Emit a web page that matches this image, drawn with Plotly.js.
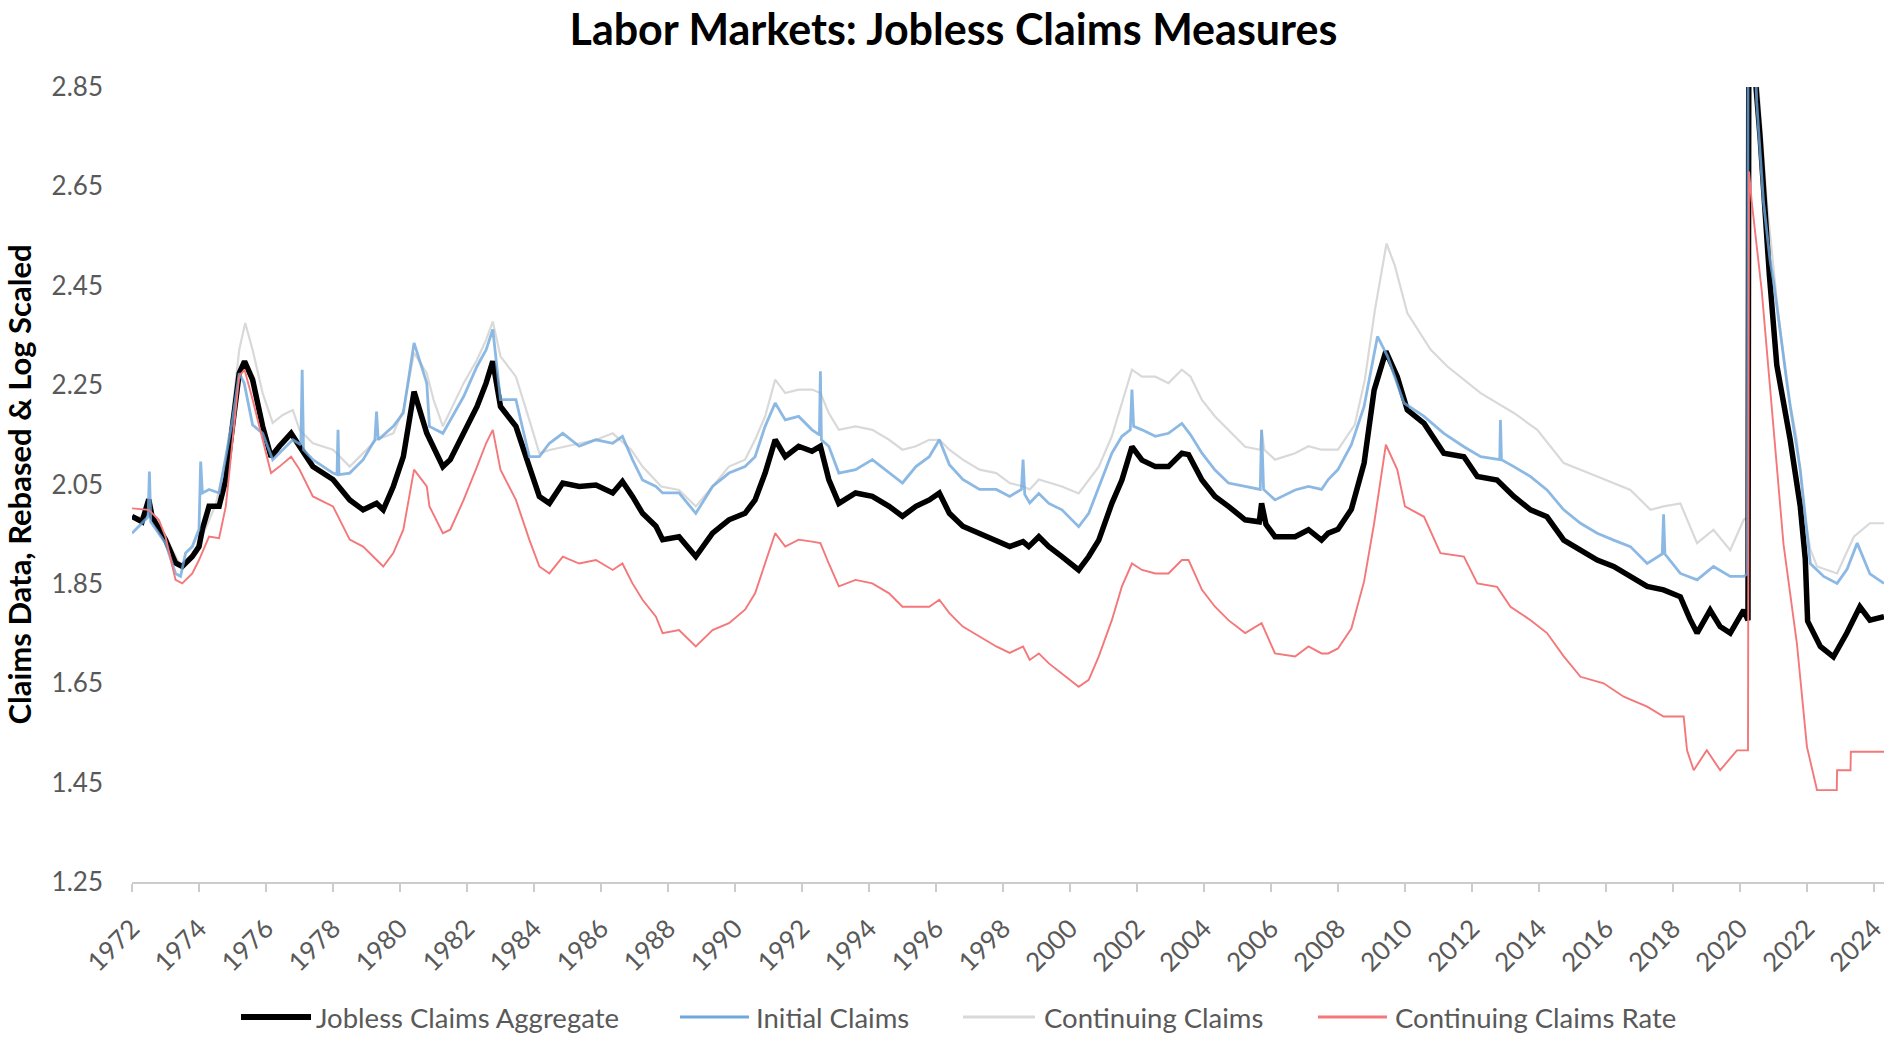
<!DOCTYPE html>
<html>
<head>
<meta charset="utf-8">
<script src="https://cdn.plot.ly/plotly-3.0.1.min.js"></script>
<style>
  html, body { margin: 0; padding: 0; background: #ffffff; }
  #chart { width: 1888px; height: 1037px; }
</style>
</head>
<body>
<div id="chart"></div>
<script>
// ---- Data: [decimal year, value] ----
const aggregateSeries = [
  [1972.00,1.986],[1972.30,1.975],[1972.50,2.020],[1972.60,1.985],[1973.00,1.939],[1973.30,1.892],
  [1973.50,1.885],[1973.80,1.905],[1974.00,1.925],[1974.10,1.960],[1974.30,2.006],[1974.60,2.006],
  [1974.80,2.060],[1975.00,2.167],[1975.20,2.274],[1975.36,2.298],[1975.60,2.261],[1975.90,2.167],
  [1976.15,2.106],[1976.40,2.127],[1976.75,2.153],[1977.00,2.127],[1977.40,2.086],[1978.00,2.060],
  [1978.50,2.019],[1978.90,1.999],[1979.30,2.012],[1979.50,1.999],[1979.80,2.046],[1980.10,2.106],
  [1980.42,2.237],[1980.80,2.153],[1981.28,2.086],[1981.50,2.100],[1981.90,2.153],[1982.30,2.207],
  [1982.57,2.254],[1982.77,2.298],[1983.00,2.207],[1983.46,2.167],[1983.86,2.086],[1984.16,2.026],
  [1984.46,2.012],[1984.86,2.053],[1985.35,2.046],[1985.85,2.049],[1986.35,2.033],[1986.64,2.056],
  [1986.94,2.026],[1987.24,1.992],[1987.64,1.966],[1987.84,1.939],[1988.33,1.945],[1988.83,1.905],
  [1989.33,1.952],[1989.82,1.979],[1990.30,1.992],[1990.60,2.019],[1990.90,2.073],[1991.20,2.140],
  [1991.50,2.106],[1991.90,2.127],[1992.30,2.117],[1992.55,2.127],[1992.80,2.060],[1993.10,2.012],
  [1993.60,2.033],[1994.10,2.026],[1994.60,2.006],[1995.00,1.986],[1995.40,2.006],[1995.80,2.019],
  [1996.10,2.033],[1996.40,1.992],[1996.80,1.966],[1997.30,1.952],[1997.80,1.939],[1998.20,1.925],
  [1998.60,1.935],[1998.77,1.925],[1999.07,1.945],[1999.37,1.925],[1999.76,1.905],[2000.26,1.878],
  [2000.56,1.905],[2000.86,1.938],[2001.25,2.012],[2001.55,2.059],[2001.85,2.126],[2002.15,2.099],
  [2002.55,2.086],[2002.94,2.086],[2003.34,2.113],[2003.54,2.110],[2003.94,2.059],[2004.33,2.026],
  [2004.73,2.006],[2005.23,1.979],[2005.65,1.975],[2005.72,2.012],[2005.85,1.970],[2006.12,1.945],
  [2006.72,1.945],[2007.12,1.959],[2007.51,1.938],[2007.71,1.952],[2008.00,1.960],[2008.40,2.000],
  [2008.78,2.093],[2009.08,2.240],[2009.43,2.318],[2009.77,2.267],[2010.07,2.200],[2010.57,2.173],
  [2011.16,2.113],[2011.76,2.106],[2012.16,2.066],[2012.75,2.059],[2013.25,2.026],[2013.75,1.999],
  [2014.24,1.985],[2014.74,1.938],[2015.24,1.918],[2015.74,1.898],[2016.23,1.885],[2016.73,1.865],
  [2017.23,1.845],[2017.72,1.838],[2018.22,1.824],[2018.50,1.780],[2018.72,1.751],[2019.11,1.797],
  [2019.41,1.764],[2019.71,1.751],[2020.11,1.797],[2020.24,1.777],[2020.27,3.200],[2020.40,3.000],
  [2020.48,2.850],[2020.60,2.750],[2020.73,2.600],[2020.88,2.470],[2021.10,2.290],[2021.50,2.140],
  [2021.80,2.006],[2021.95,1.900],[2022.02,1.775],[2022.40,1.724],[2022.79,1.703],[2023.19,1.751],
  [2023.58,1.804],[2023.88,1.777],[2024.30,1.784]
];

const initialSeries = [
  [1972.00,1.952],[1972.30,1.972],[1972.48,1.985],[1972.52,2.076],[1972.56,1.975],[1973.00,1.932],
  [1973.30,1.871],[1973.45,1.865],[1973.60,1.912],[1973.80,1.925],[1974.00,1.960],[1974.05,2.096],
  [1974.10,2.033],[1974.30,2.040],[1974.60,2.033],[1974.80,2.106],[1975.00,2.180],[1975.20,2.274],
  [1975.35,2.254],[1975.60,2.170],[1975.90,2.153],[1976.20,2.100],[1976.50,2.120],[1976.80,2.140],
  [1977.04,2.130],[1977.08,2.281],[1977.12,2.120],[1977.40,2.100],[1978.00,2.073],[1978.12,2.070],
  [1978.15,2.160],[1978.18,2.070],[1978.50,2.073],[1978.90,2.100],[1979.25,2.140],[1979.30,2.197],
  [1979.35,2.140],[1979.80,2.167],[1980.10,2.194],[1980.42,2.335],[1980.80,2.254],[1980.88,2.167],
  [1981.28,2.153],[1981.90,2.227],[1982.30,2.288],[1982.57,2.321],[1982.77,2.362],[1983.00,2.221],
  [1983.46,2.221],[1983.86,2.106],[1984.16,2.106],[1984.46,2.133],[1984.86,2.153],[1985.35,2.127],
  [1985.85,2.140],[1986.35,2.133],[1986.64,2.147],[1986.94,2.100],[1987.24,2.059],[1987.64,2.046],
  [1987.84,2.033],[1988.33,2.033],[1988.83,1.992],[1989.33,2.046],[1989.82,2.073],[1990.30,2.086],
  [1990.60,2.106],[1990.90,2.167],[1991.20,2.214],[1991.50,2.180],[1991.90,2.187],[1992.30,2.160],
  [1992.52,2.150],[1992.55,2.278],[1992.58,2.140],[1992.80,2.127],[1993.10,2.073],[1993.60,2.080],
  [1994.10,2.100],[1994.60,2.073],[1995.00,2.053],[1995.40,2.086],[1995.80,2.106],[1996.10,2.140],
  [1996.40,2.090],[1996.80,2.060],[1997.30,2.040],[1997.80,2.040],[1998.20,2.026],[1998.55,2.040],
  [1998.60,2.100],[1998.65,2.030],[1998.80,2.013],[1999.07,2.032],[1999.37,2.012],[1999.76,1.999],
  [2000.26,1.965],[2000.56,1.992],[2000.86,2.046],[2001.25,2.113],[2001.55,2.147],[2001.80,2.160],
  [2001.85,2.241],[2001.90,2.167],[2002.15,2.160],[2002.55,2.147],[2002.94,2.153],[2003.34,2.173],
  [2003.60,2.150],[2003.94,2.113],[2004.33,2.079],[2004.73,2.053],[2005.23,2.046],[2005.68,2.040],
  [2005.72,2.160],[2005.78,2.040],[2006.12,2.019],[2006.72,2.039],[2007.12,2.046],[2007.51,2.040],
  [2007.71,2.060],[2008.00,2.080],[2008.40,2.130],[2008.78,2.207],[2009.18,2.348],[2009.48,2.308],
  [2009.97,2.214],[2010.57,2.187],[2011.16,2.153],[2011.76,2.126],[2012.26,2.106],[2012.83,2.100],
  [2012.85,2.180],[2012.88,2.100],[2013.25,2.086],[2013.75,2.066],[2014.24,2.039],[2014.74,1.999],
  [2015.24,1.972],[2015.74,1.952],[2016.23,1.938],[2016.73,1.925],[2017.23,1.891],[2017.68,1.910],
  [2017.72,1.990],[2017.76,1.910],[2018.22,1.871],[2018.72,1.858],[2019.21,1.885],[2019.71,1.865],
  [2020.11,1.865],[2020.22,1.870],[2020.25,3.300],[2020.40,3.000],[2020.50,2.820],[2020.70,2.620],
  [2020.90,2.500],[2021.00,2.460],[2021.10,2.410],[2021.50,2.207],[2021.80,2.080],[2022.10,1.891],
  [2022.50,1.865],[2022.90,1.851],[2023.20,1.880],[2023.50,1.932],[2023.88,1.870],[2024.30,1.851]
];

const continuingSeries = [
  [1972.00,1.980],[1972.50,1.990],[1973.00,1.945],[1973.50,1.880],[1974.00,1.930],[1974.50,2.010],
  [1974.80,2.100],[1975.00,2.200],[1975.20,2.321],[1975.38,2.375],[1975.60,2.321],[1975.90,2.234],
  [1976.20,2.174],[1976.50,2.190],[1976.80,2.200],[1977.00,2.160],[1977.40,2.133],[1978.00,2.120],
  [1978.50,2.086],[1978.90,2.113],[1979.30,2.140],[1979.80,2.153],[1980.10,2.200],[1980.42,2.315],
  [1980.80,2.274],[1981.00,2.221],[1981.28,2.167],[1981.90,2.254],[1982.30,2.301],[1982.57,2.341],
  [1982.77,2.378],[1983.00,2.308],[1983.46,2.267],[1983.86,2.180],[1984.16,2.113],[1984.50,2.120],
  [1985.00,2.127],[1985.85,2.140],[1986.35,2.153],[1986.90,2.120],[1987.24,2.086],[1987.80,2.046],
  [1988.33,2.039],[1988.83,2.006],[1989.33,2.046],[1989.82,2.086],[1990.30,2.100],[1990.60,2.140],
  [1990.90,2.187],[1991.20,2.261],[1991.50,2.234],[1991.90,2.241],[1992.30,2.241],[1992.55,2.234],
  [1992.80,2.194],[1993.10,2.160],[1993.60,2.167],[1994.10,2.160],[1994.60,2.140],[1995.00,2.120],
  [1995.40,2.127],[1995.80,2.140],[1996.10,2.140],[1996.40,2.120],[1996.80,2.100],[1997.30,2.080],
  [1997.80,2.073],[1998.20,2.053],[1998.60,2.046],[1998.80,2.040],[1999.07,2.060],[1999.76,2.046],
  [2000.26,2.032],[2000.86,2.086],[2001.25,2.147],[2001.55,2.214],[2001.85,2.281],[2002.15,2.267],
  [2002.55,2.267],[2002.94,2.254],[2003.34,2.281],[2003.60,2.267],[2003.94,2.220],[2004.33,2.187],
  [2004.73,2.160],[2005.23,2.126],[2005.68,2.120],[2005.72,2.160],[2005.80,2.120],[2006.12,2.100],
  [2006.72,2.113],[2007.12,2.127],[2007.51,2.120],[2007.71,2.120],[2008.00,2.120],[2008.50,2.170],
  [2008.80,2.260],[2009.10,2.400],[2009.45,2.535],[2009.70,2.490],[2010.07,2.395],[2010.77,2.321],
  [2011.26,2.288],[2012.26,2.234],[2013.25,2.194],[2013.95,2.160],[2014.74,2.093],[2015.74,2.066],
  [2016.73,2.039],[2017.33,1.999],[2017.72,2.006],[2018.22,2.012],[2018.72,1.932],[2019.21,1.959],
  [2019.71,1.918],[2020.11,1.979],[2020.24,1.985],[2020.30,3.300],[2020.55,2.850],[2020.80,2.620],
  [2021.10,2.420],[2021.40,2.250],[2021.70,2.140],[2021.95,1.980],[2022.10,1.920],[2022.30,1.885],
  [2022.90,1.871],[2023.40,1.945],[2023.88,1.972],[2024.30,1.972]
];

const rateSeries = [
  [1972.00,2.002],[1972.50,1.999],[1972.80,1.979],[1973.00,1.945],[1973.30,1.858],[1973.50,1.851],
  [1973.80,1.871],[1974.00,1.898],[1974.30,1.945],[1974.60,1.942],[1974.80,2.006],[1975.00,2.140],
  [1975.20,2.268],[1975.36,2.281],[1975.60,2.221],[1975.90,2.140],[1976.15,2.073],[1976.40,2.086],
  [1976.75,2.106],[1977.00,2.080],[1977.40,2.026],[1978.00,2.006],[1978.50,1.939],[1978.90,1.925],
  [1979.30,1.898],[1979.50,1.885],[1979.80,1.912],[1980.10,1.959],[1980.42,2.080],[1980.80,2.046],
  [1980.88,2.006],[1981.28,1.952],[1981.50,1.959],[1981.90,2.019],[1982.30,2.086],[1982.57,2.133],
  [1982.77,2.160],[1983.00,2.080],[1983.46,2.019],[1983.86,1.939],[1984.16,1.885],[1984.46,1.871],
  [1984.86,1.905],[1985.35,1.891],[1985.85,1.898],[1986.35,1.878],[1986.64,1.891],[1986.94,1.851],
  [1987.24,1.818],[1987.64,1.784],[1987.84,1.751],[1988.33,1.757],[1988.83,1.724],[1989.33,1.757],
  [1989.82,1.771],[1990.30,1.798],[1990.60,1.831],[1990.90,1.891],[1991.20,1.952],[1991.50,1.925],
  [1991.90,1.939],[1992.30,1.935],[1992.55,1.932],[1992.80,1.891],[1993.10,1.845],[1993.60,1.858],
  [1994.10,1.851],[1994.60,1.831],[1995.00,1.804],[1995.40,1.804],[1995.80,1.804],[1996.10,1.818],
  [1996.40,1.791],[1996.80,1.764],[1997.30,1.744],[1997.80,1.724],[1998.20,1.711],[1998.60,1.724],
  [1998.80,1.697],[1999.07,1.710],[1999.37,1.690],[1999.76,1.670],[2000.26,1.643],[2000.56,1.657],
  [2000.86,1.704],[2001.25,1.777],[2001.55,1.845],[2001.85,1.891],[2002.15,1.878],[2002.55,1.871],
  [2002.94,1.871],[2003.34,1.898],[2003.54,1.898],[2003.94,1.838],[2004.33,1.804],[2004.73,1.777],
  [2005.23,1.751],[2005.72,1.771],[2006.12,1.710],[2006.72,1.704],[2007.12,1.724],[2007.51,1.710],
  [2007.71,1.710],[2008.00,1.720],[2008.40,1.760],[2008.78,1.855],[2009.08,1.972],[2009.43,2.130],
  [2009.77,2.080],[2010.00,2.006],[2010.57,1.985],[2011.06,1.912],[2011.76,1.905],[2012.16,1.851],
  [2012.75,1.844],[2013.15,1.804],[2013.75,1.777],[2014.24,1.751],[2014.74,1.704],[2015.24,1.663],
  [2015.93,1.650],[2016.53,1.623],[2017.23,1.603],[2017.72,1.583],[2018.32,1.583],[2018.42,1.515],
  [2018.62,1.475],[2019.01,1.515],[2019.41,1.475],[2019.91,1.515],[2020.24,1.515],[2020.27,2.680],
  [2020.35,2.620],[2020.65,2.440],[2021.00,2.170],[2021.30,1.930],[2021.70,1.730],[2022.00,1.522],
  [2022.30,1.435],[2022.89,1.435],[2022.90,1.475],[2023.30,1.475],[2023.31,1.512],[2024.30,1.512]
];

const seriesNames = ['Jobless Claims Aggregate', 'Initial Claims', 'Continuing Claims', 'Continuing Claims Rate'];
const seriesColors = ['#000000', '#6fa8dc', '#d9d9d9', '#f4777a'];
const yearTickValues = [1972,1974,1976,1978,1980,1982,1984,1986,1988,1990,1992,1994,1996,1998,2000,2002,2004,2006,2008,2010,2012,2014,2016,2018,2020,2022,2024];
const yearTickLabels = ['1972','1974','1976','1978','1980','1982','1984','1986','1988','1990','1992','1994','1996','1998','2000','2002','2004','2006','2008','2010','2012','2014','2016','2018','2020','2022','2024'];
const valueTickValues = [1.25,1.45,1.65,1.85,2.05,2.25,2.45,2.65,2.85];
const valueTickLabels = ['1.25','1.45','1.65','1.85','2.05','2.25','2.45','2.65','2.85'];

const xs = s => s.map(p => p[0]);
const ys = s => s.map(p => p[1]);

const FONT = 'Lato, "Open Sans", sans-serif';

const traces = [
  { x: xs(continuingSeries), y: ys(continuingSeries), name: seriesNames[2],
    type: 'scatter', mode: 'lines', line: { color: seriesColors[2], width: 2.2 } },
  { x: xs(aggregateSeries), y: ys(aggregateSeries), name: seriesNames[0],
    type: 'scatter', mode: 'lines', line: { color: seriesColors[0], width: 5.5 } },
  { x: xs(initialSeries), y: ys(initialSeries), name: seriesNames[1],
    type: 'scatter', mode: 'lines', opacity: 0.8, line: { color: seriesColors[1], width: 2.8 } },
  { x: xs(rateSeries), y: ys(rateSeries), name: seriesNames[3],
    type: 'scatter', mode: 'lines', line: { color: seriesColors[3], width: 1.9 } }
];

// ---- legend drawn below the plot (sample line + label), positions in pixels ----
const PL = 132, PR = 1884, PB = 882, PT = 87;
const PW = PR - PL, PH = PB - PT;
const px2x = p => (p - PL) / PW;
const px2y = p => (PB - p) / PH;
const legendSampleStart = [241, 680, 963, 1318];
const legendSampleEnd   = [311, 749, 1035, 1387];
const legendTextStart   = [315, 755, 1043, 1394];
const legendSampleWidth = [6, 3, 3, 3];
const legendY = 1017;

const shapes = seriesNames.map((n, i) => ({
  type: 'line', xref: 'paper', yref: 'paper', layer: 'above',
  x0: px2x(legendSampleStart[i]), x1: px2x(legendSampleEnd[i]),
  y0: px2y(legendY), y1: px2y(legendY),
  line: { color: seriesColors[i], width: legendSampleWidth[i] }
}));
const annotations = seriesNames.map((n, i) => ({
  text: n, xref: 'paper', yref: 'paper', showarrow: false,
  x: px2x(legendTextStart[i]), xanchor: 'left',
  y: px2y(legendY), yanchor: 'middle', borderpad: 0,
  font: { family: FONT, size: 27.5, color: '#595959' }
}));

const layout = {
  width: 1888, height: 1037,
  paper_bgcolor: '#ffffff', plot_bgcolor: '#ffffff',
  margin: { l: PL, r: 1888 - PR, t: PT, b: 1037 - PB, pad: 0 },
  font: { family: FONT, color: '#595959', size: 26 },
  showlegend: false,
  title: {
    text: '<b>Labor Markets: Jobless Claims Measures</b>',
    font: { family: FONT, size: 43, color: '#000000' },
    xref: 'container', x: 0.505, xanchor: 'center',
    yref: 'container', y: 1 - 30 / 1037, yanchor: 'middle'
  },
  xaxis: {
    type: 'linear', range: [1972, 2024.3], automargin: false,
    tickmode: 'array', tickvals: yearTickValues, ticktext: yearTickLabels,
    tickangle: -45, ticks: 'outside', ticklen: 8, tickwidth: 2, tickcolor: '#cccccc',
    ticklabelstandoff: 11, ticklabeloverflow: 'allow',
    showline: true, linecolor: '#cccccc', linewidth: 2,
    showgrid: false, zeroline: false,
    tickfont: { family: FONT, size: 26, color: '#595959' }
  },
  yaxis: {
    type: 'linear', range: [1.25, 2.85], automargin: false,
    tickmode: 'array', tickvals: valueTickValues, ticktext: valueTickLabels,
    ticks: '', showline: false, showgrid: false, zeroline: false,
    ticklabelstandoff: 28,
    tickfont: { family: FONT, size: 26, color: '#595959' },
    title: { text: '<b>Claims Data, Rebased & Log Scaled</b>', standoff: 10,
             font: { family: FONT, size: 31, color: '#000000' } }
  },
  shapes: shapes,
  annotations: annotations
};

Plotly.newPlot('chart', traces, layout, { displayModeBar: false, staticPlot: true });
</script>
</body>
</html>
